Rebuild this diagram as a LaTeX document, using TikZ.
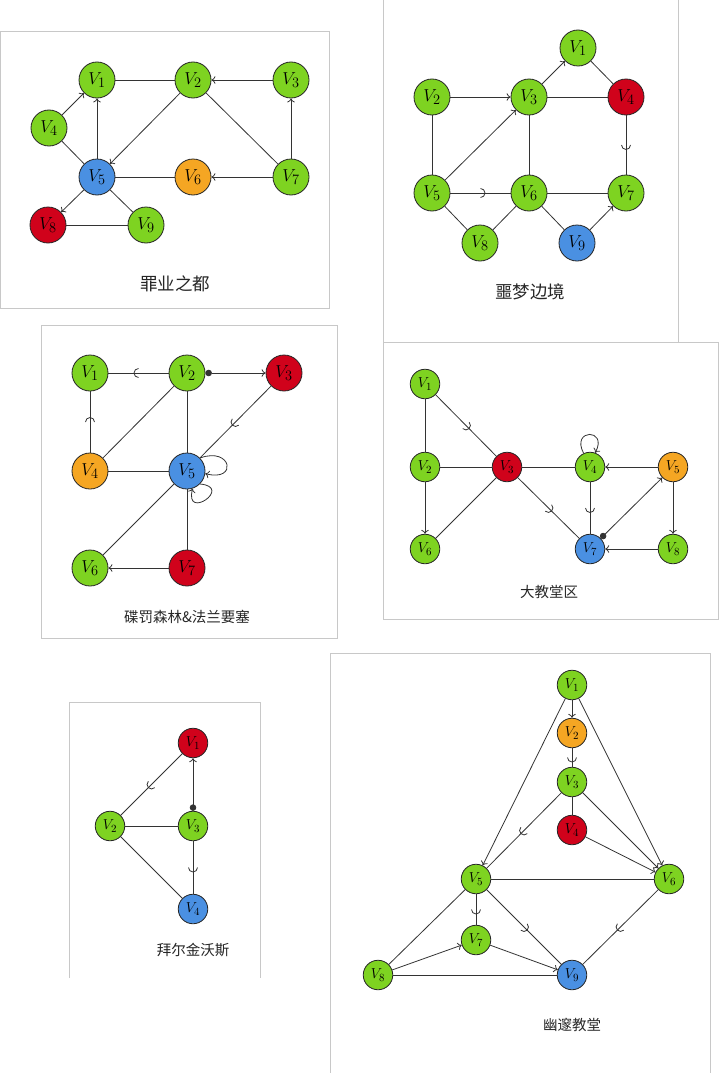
\documentclass[tikz,border=0pt]{standalone}
\usepackage{fontspec}
\newfontfamily\cjk{Noto Sans CJK SC}
\usetikzlibrary{arrows.meta,decorations.markings}
\definecolor{gnc}{HTML}{7ED321}
\definecolor{rdc}{HTML}{D0021B}
\definecolor{blc}{HTML}{4A90E2}
\definecolor{ogc}{HTML}{F5A623}
\definecolor{framec}{HTML}{C8C8C8}
\definecolor{linec}{HTML}{333333}
\tikzset{
  vb/.style={circle,draw=black!85,line width=0.8pt,minimum size=36pt,inner sep=0pt,font=\fontsize{19}{22}\selectfont},
  vs/.style={circle,draw=black!85,line width=0.8pt,minimum size=29.5pt,inner sep=0pt,font=\fontsize{15.5}{18}\selectfont},
  gn/.style={fill=gnc},
  rd/.style={fill=rdc},
  bl/.style={fill=blc},
  og/.style={fill=ogc},
  ln/.style={draw=linec,line width=0.8pt},
  arr/.style={-{To[length=4pt,width=7.5pt]}},
  dotarr/.style={{Circle[length=6.5pt]}-{To[length=4pt,width=7.5pt]}},
  cup/.style={postaction={decorate,decoration={markings,
     mark=at position 0.5 with {\draw[line width=0.8pt,linec] (0pt,-4.5pt) arc[start angle=-90,end angle=90,radius=4.5pt];}}}},
  frm/.style={draw=framec,line width=0.9pt},
  lblb/.style={font=\cjk\fontsize{17.5}{20}\selectfont,text=black!85},
  lbls/.style={font=\cjk\fontsize{14.5}{17}\selectfont,text=black!85},
}
\begin{document}
\begin{tikzpicture}[x=1pt,y=1pt]
\useasboundingbox (0,0) rectangle (720,-1073);
\fill[white] (0,0) rectangle (720,-1073);

% ---------- frames ----------
\draw[frm] (0.5,-31) rectangle (329,-308);
\draw[frm] (383,0) -- (383,-342) -- (678,-342) -- (678,0);
\draw[frm] (41,-325) rectangle (337,-638);
\draw[frm] (383,-342) rectangle (718,-619);
\draw[frm] (69,-978) -- (69,-702) -- (260,-702) -- (260,-978);
\draw[frm] (330,-1073) -- (330,-653) -- (710,-653) -- (710,-1073);

% ---------- panel 1 ----------
\node[vb,gn] (a1) at (97,-80) {$V_1$};
\node[vb,gn] (a2) at (193,-80) {$V_2$};
\node[vb,gn] (a3) at (291,-80) {$V_3$};
\node[vb,gn] (a4) at (49,-128) {$V_4$};
\node[vb,bl] (a5) at (97,-177) {$V_5$};
\node[vb,og] (a6) at (193,-177) {$V_6$};
\node[vb,gn] (a7) at (291,-177) {$V_7$};
\node[vb,rd] (a8) at (48,-225) {$V_8$};
\node[vb,gn] (a9) at (146,-225) {$V_9$};
\node[lblb] (la) at (175,-284) {罪业之都};
\draw[ln] (a1) -- (a2);
\draw[ln,arr] (a3) -- (a2);
\draw[ln,arr] (a4) -- (a1);
\draw[ln,arr] (a5) -- (a1);
\draw[ln,arr] (a2) -- (a5);
\draw[ln] (a2) -- (a7);
\draw[ln,arr] (a7) -- (a3);
\draw[ln] (a4) -- (a5);
\draw[ln,arr] (a7) -- (a6);
\draw[ln] (a5) -- (a6);
\draw[ln,arr] (a5) -- (a8);
\draw[ln] (a5) -- (a9);
\draw[ln] (a8) -- (a9);

% ---------- panel 2 ----------
\node[vb,gn] (b1) at (578,-48) {$V_1$};
\node[vb,gn] (b2) at (432,-97) {$V_2$};
\node[vb,gn] (b3) at (529,-97) {$V_3$};
\node[vb,rd] (b4) at (626,-97) {$V_4$};
\node[vb,gn] (b5) at (432,-193) {$V_5$};
\node[vb,gn] (b6) at (529,-193) {$V_6$};
\node[vb,gn] (b7) at (626,-193) {$V_7$};
\node[vb,gn] (b8) at (480,-243) {$V_8$};
\node[vb,bl] (b9) at (577,-243) {$V_9$};
\node[lblb] (lb) at (530,-292) {噩梦边境};
\draw[ln,arr] (b2) -- (b3);
\draw[ln,arr] (b3) -- (b1);
\draw[ln] (b1) -- (b4);
\draw[ln] (b3) -- (b4);
\draw[ln,cup] (b4) -- (b7);
\draw[ln,arr] (b5) -- (b3);
\draw[ln] (b2) -- (b5);
\draw[ln] (b3) -- (b6);
\draw[ln,cup] (b5) -- (b6);
\draw[ln] (b6) -- (b7);
\draw[ln] (b5) -- (b8);
\draw[ln] (b8) -- (b6);
\draw[ln] (b6) -- (b9);
\draw[ln,arr] (b9) -- (b7);

% ---------- panel 3 ----------
\node[vb,gn] (c1) at (90,-373) {$V_1$};
\node[vb,gn] (c2) at (187,-373) {$V_2$};
\node[vb,rd] (c3) at (284,-373) {$V_3$};
\node[vb,og] (c4) at (90,-471) {$V_4$};
\node[vb,bl] (c5) at (187,-471) {$V_5$};
\node[vb,gn] (c6) at (90,-568) {$V_6$};
\node[vb,rd] (c7) at (187,-568) {$V_7$};
\node[lbls] (lc) at (187,-617) {碟罚森林\&法兰要塞};
\draw[ln,cup] (c2) -- (c1);
\draw[ln,dotarr] (c2) -- (c3);
\draw[ln,cup] (c4) -- (c1);
\draw[ln] (c2) -- (c4);
\draw[ln] (c2) -- (c5);
\draw[ln,cup] (c3) -- (c5);
\draw[ln] (c4) -- (c5);
\draw[ln] (c5) -- (c6);
\draw[ln] (c5) -- (c7);
\draw[ln,arr] (c7) -- (c6);
\draw[ln,arr] (c5.45) .. controls +(20:34) and +(-15:34) .. (c5.-8);
\draw[ln,arr] (c5.-45) .. controls +(-5:34) and +(-105:34) .. (c5.-72);

% ---------- panel 4 ----------
\node[vs,gn] (d1) at (425,-384) {$V_1$};
\node[vs,gn] (d2) at (425,-467) {$V_2$};
\node[vs,rd] (d3) at (507,-467) {$V_3$};
\node[vs,gn] (d4) at (590,-467) {$V_4$};
\node[vs,og] (d5) at (673,-467) {$V_5$};
\node[vs,gn] (d6) at (425,-549) {$V_6$};
\node[vs,bl] (d7) at (590,-549) {$V_7$};
\node[vs,gn] (d8) at (673,-549) {$V_8$};
\node[lbls] (ld) at (549,-592) {大教堂区};
\draw[ln] (d1) -- (d2);
\draw[ln,cup] (d1) -- (d3);
\draw[ln] (d2) -- (d3);
\draw[ln,arr] (d2) -- (d6);
\draw[ln] (d6) -- (d3);
\draw[ln] (d3) -- (d4);
\draw[ln,cup] (d3) -- (d7);
\draw[ln,arr] (d4.115) .. controls +(118:28) and +(62:28) .. (d4.70);
\draw[ln,arr] (d5) -- (d4);
\draw[ln,cup] (d4) -- (d7);
\draw[ln,dotarr] (d7) -- (d5);
\draw[ln,arr] (d5) -- (d8);
\draw[ln,arr] (d8) -- (d7);

% ---------- panel 5 ----------
\node[vs,rd] (e1) at (193,-743) {$V_1$};
\node[vs,gn] (e2) at (110,-826) {$V_2$};
\node[vs,gn] (e3) at (193,-826) {$V_3$};
\node[vs,bl] (e4) at (193,-909) {$V_4$};
\node[lbls] (le) at (193,-950) {拜尔金沃斯};
\draw[ln,cup] (e1) -- (e2);
\draw[ln,dotarr] (e3) -- (e1);
\draw[ln] (e2) -- (e3);
\draw[ln,cup] (e3) -- (e4);
\draw[ln] (e2) -- (e4);

% ---------- panel 6 ----------
\node[vs,gn] (f1) at (572,-685) {$V_1$};
\node[vs,og] (f2) at (572,-733) {$V_2$};
\node[vs,gn] (f3) at (572,-782) {$V_3$};
\node[vs,rd] (f4) at (572,-830) {$V_4$};
\node[vs,gn] (f5) at (476,-879) {$V_5$};
\node[vs,gn] (f6) at (669,-879) {$V_6$};
\node[vs,gn] (f7) at (476,-940) {$V_7$};
\node[vs,gn] (f8) at (378,-975) {$V_8$};
\node[vs,bl] (f9) at (572,-975) {$V_9$};
\node[lbls] (lf) at (572,-1025) {幽邃教堂};
\draw[ln,arr] (f1) -- (f2);
\draw[ln,cup] (f2) -- (f3);
\draw[ln] (f3) -- (f4);
\draw[ln,arr] (f1) -- (f5);
\draw[ln,arr] (f1) -- (f6);
\draw[ln,arr] (f3) -- (f6);
\draw[ln,arr] (f4) -- (f6);
\draw[ln,cup] (f3) -- (f5);
\draw[ln] (f5) -- (f6);
\draw[ln,cup] (f5) -- (f7);
\draw[ln,cup] (f5) -- (f9);
\draw[ln,cup] (f6) -- (f9);
\draw[ln] (f8) -- (f5);
\draw[ln,arr] (f8) -- (f7);
\draw[ln] (f8) -- (f9);
\draw[ln,arr] (f7) -- (f9);
\end{tikzpicture}
\end{document}
